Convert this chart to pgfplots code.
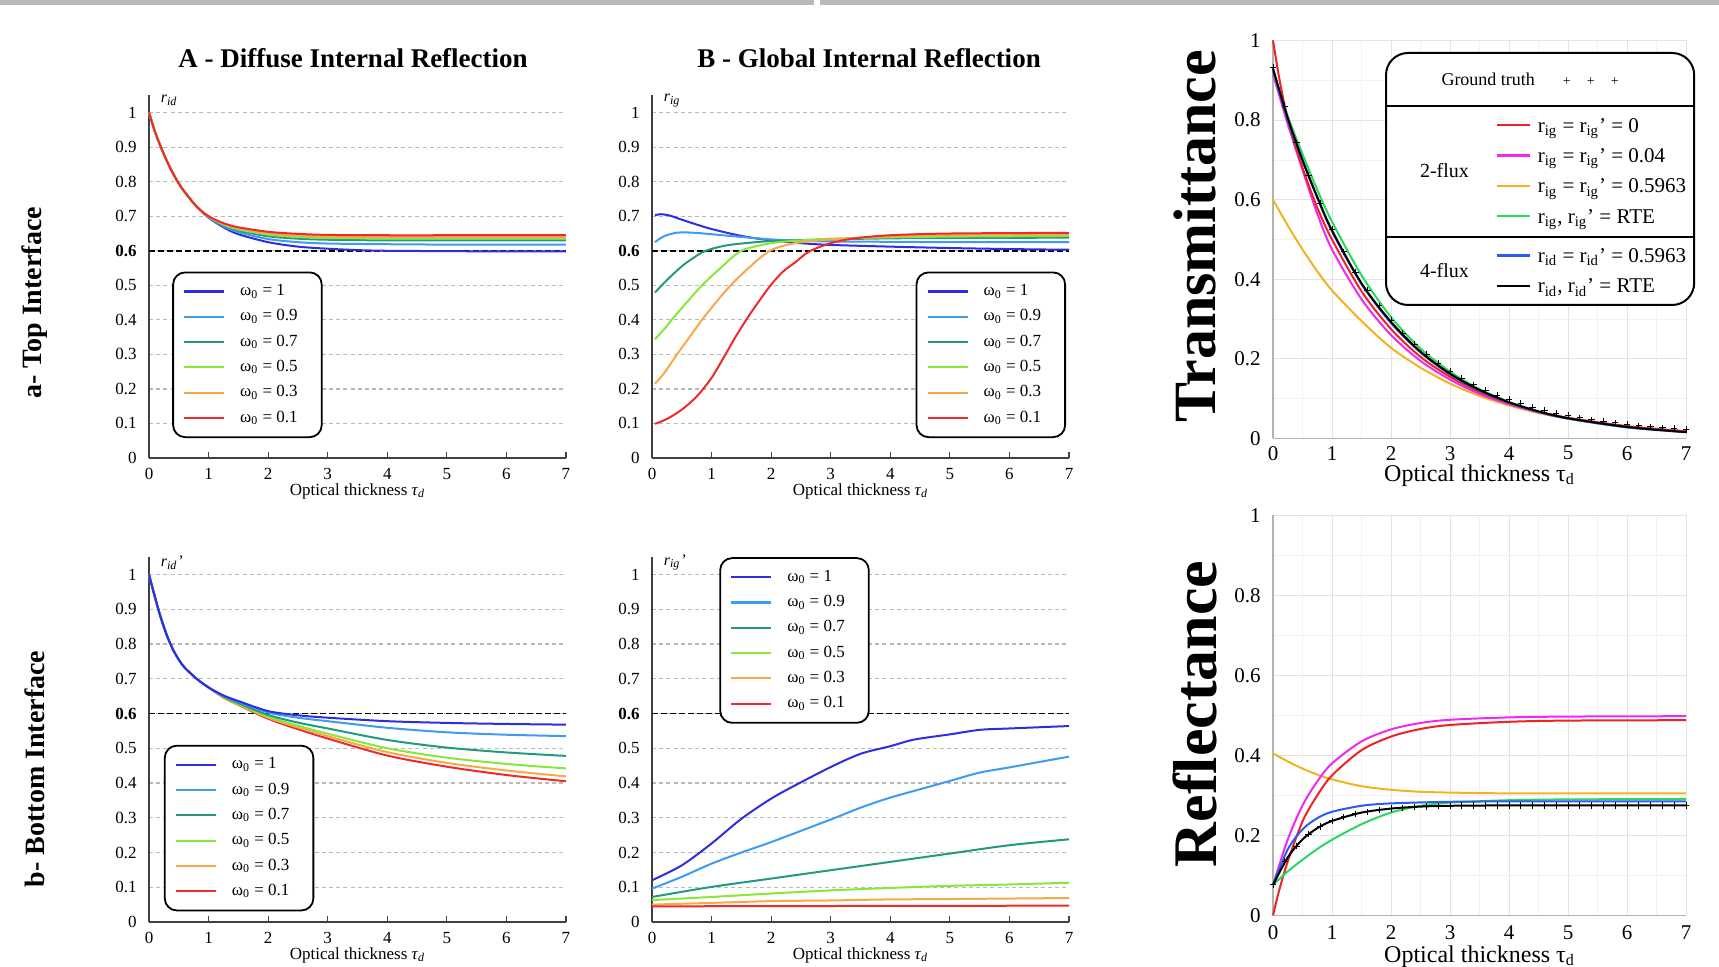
\documentclass[border=0pt]{standalone}
\usepackage{fontspec}
\setmainfont{Liberation Serif}
\usepackage{pgfplots}
\pgfplotsset{compat=1.18}

\definecolor{w1}{HTML}{2E2EE0}
\definecolor{w9}{HTML}{3D9BF0}
\definecolor{w7}{HTML}{239A80}
\definecolor{w5}{HTML}{86E83A}
\definecolor{w3}{HTML}{F7A94A}
\definecolor{w0}{HTML}{EE2A2A}
\definecolor{tred}{HTML}{EE2222}
\definecolor{tmag}{HTML}{F028F0}
\definecolor{tyel}{HTML}{F2B320}
\definecolor{tgrn}{HTML}{2AD860}
\definecolor{tblu}{HTML}{2A5CEE}

\newcommand\samp[1]{\textcolor{#1}{\rule[0.28em]{16.5pt}{1.2pt}}\hspace{4pt}}
\newcommand\wlab[1]{ω\textsubscript{0} = #1\hspace*{5pt}}

\pgfplotsset{
  lp/.style={scale only axis, width=208.5pt, xmin=0, xmax=7, ymin=0, ymax=1.05,
    clip=false,
    axis lines=left, axis line style={-, draw=black!75, line width=0.8pt},
    xtick={0,1,2,3,4,5,6,7}, xticklabels={0,1,2,3,4,5,6,7},
    ytick={0,0.1,0.2,0.3,0.4,0.5,0.6,0.7,0.8,0.9,1},
    yticklabels={0,0.1,0.2,0.3,0.4,0.5,\textbf{0.6},0.7,0.8,0.9,1},
    ymajorgrids, grid style={gray!55, line width=0.6pt, dash pattern=on 2pt off 1.6pt},
    xtick align=inside, major tick length=3pt,
    ytick style={draw=none}, xtick style={black!75, line width=0.6pt},
    tick label style={font=\fontsize{8.5}{10}\selectfont},
    xticklabel style={anchor=center, yshift=-7.8pt},
    yticklabel style={anchor=east, xshift=-1.2pt},
    xlabel={Optical thickness \textit{τ}\textsubscript{\textit{d}}},
    xlabel style={font=\fontsize{8.5}{10}\selectfont, at={(axis description cs:0.5,0)}, anchor=center, yshift=-16.5pt},
    legend cell align=left,
    legend style={draw=black, line width=0.9pt, rounded corners=6pt, fill=white,
      font=\fontsize{8.5}{10}\selectfont, row sep=1.5pt, inner xsep=5pt, inner ysep=4pt},
    legend image code/.code={\draw[#1, line width=1.1pt] (0pt,0pt) -- (20pt,0pt); \path (25.5pt,0pt);},
  },
  rp/.style={scale only axis, width=206.5pt, xmin=0, xmax=7, ymin=0, ymax=1,
    clip=false,
    axis lines=left, axis line style={-, draw=gray!60, line width=0.6pt},
    xtick={0,1,2,3,4,5,6,7}, xticklabels={0,1,2,3,4,5,6,7},
    ytick={0,0.2,0.4,0.6,0.8,1}, yticklabels={0,0.2,0.4,0.6,0.8,1},
    minor x tick num=1, minor y tick num=1,
    grid=both, major grid style={gray!22, line width=0.4pt}, minor grid style={gray!10, line width=0.3pt},
    tick style={draw=none},
    tick label style={font=\fontsize{10.5}{12}\selectfont},
    yticklabel style={anchor=east, xshift=-0.5pt},
    xlabel={Optical thickness τ\textsubscript{d}},
  },
  c/.style={#1, line width=1pt, smooth},
}

\begin{document}
\begin{tikzpicture}
\useasboundingbox (0pt,0pt) rectangle (859.5pt,483.5pt);
\fill[gray!55] (0pt,481pt) rectangle (859.5pt,483.5pt);
\fill[white] (407pt,480pt) rectangle (410pt,484pt);

% ---------------- Panel A: top, r_id
\begin{axis}[lp, height=181.3pt, at={(74.5pt,254.5pt)}, anchor=south west,
  legend style={at={(axis cs:0.39,0.54)}, anchor=north west}]
\addplot[black, line width=0.9pt, dash pattern=on 3pt off 1.5pt, forget plot] coordinates {(0,0.6) (7,0.6)};
\addplot[c=w1] coordinates {(0,1.0) (0.1,0.945) (0.2,0.9) (0.3,0.86) (0.4,0.825) (0.5,0.795) (0.6,0.77) (0.8,0.728) (1.0,0.696) (1.25,0.668) (1.5,0.648) (2,0.625) (2.5,0.612) (3,0.606) (3.5,0.602) (4,0.600) (5,0.599) (6,0.598) (7,0.598)};
\addplot[c=w9] coordinates {(0,1.0) (0.1,0.945) (0.2,0.9) (0.3,0.86) (0.4,0.825) (0.5,0.795) (0.6,0.77) (0.8,0.728) (1.0,0.697) (1.25,0.671) (1.5,0.654) (2,0.634) (2.5,0.625) (3,0.621) (4,0.619) (5,0.618) (7,0.618)};
\addplot[c=w7] coordinates {(0,1.0) (0.1,0.945) (0.2,0.9) (0.3,0.86) (0.4,0.825) (0.5,0.795) (0.6,0.77) (0.8,0.728) (1.0,0.698) (1.25,0.674) (1.5,0.659) (2,0.642) (2.5,0.635) (3,0.632) (4,0.630) (5,0.630) (7,0.630)};
\addplot[c=w5] coordinates {(0,1.0) (0.1,0.945) (0.2,0.9) (0.3,0.86) (0.4,0.825) (0.5,0.795) (0.6,0.77) (0.8,0.728) (1.0,0.699) (1.25,0.676) (1.5,0.662) (2,0.647) (2.5,0.640) (3,0.637) (4,0.636) (5,0.636) (7,0.636)};
\addplot[c=w3] coordinates {(0,1.0) (0.1,0.945) (0.2,0.9) (0.3,0.86) (0.4,0.825) (0.5,0.795) (0.6,0.77) (0.8,0.728) (1.0,0.700) (1.25,0.678) (1.5,0.665) (2,0.651) (2.5,0.644) (3,0.641) (4,0.640) (5,0.640) (7,0.640)};
\addplot[c=w0] coordinates {(0,1.0) (0.1,0.945) (0.2,0.9) (0.3,0.86) (0.4,0.825) (0.5,0.795) (0.6,0.77) (0.8,0.728) (1.0,0.700) (1.25,0.680) (1.5,0.668) (2,0.655) (2.5,0.649) (3,0.646) (4,0.645) (5,0.645) (7,0.645)};
\legend{\wlab{1},\wlab{0.9},\wlab{0.7},\wlab{0.5},\wlab{0.3},\wlab{0.1}}
\node[anchor=west, font=\fontsize{8}{9}\selectfont] at (axis cs:0.08,1.035) {\textit{r}\textsubscript{\textit{id}}};
\end{axis}

% ---------------- Panel B: top, r_ig
\begin{axis}[lp, height=181.3pt, at={(326pt,254.5pt)}, anchor=south west,
  legend style={at={(axis cs:6.95,0.54)}, anchor=north east}]
\addplot[black, line width=0.9pt, dash pattern=on 3pt off 1.5pt, forget plot] coordinates {(0,0.6) (7,0.6)};
\addplot[c=w1] coordinates {(0.05,0.703) (0.15,0.706) (0.3,0.702) (0.5,0.690) (0.75,0.676) (1,0.663) (1.5,0.643) (2,0.630) (2.5,0.622) (3,0.617) (4,0.612) (5,0.608) (6,0.605) (7,0.603)};
\addplot[c=w9] coordinates {(0.05,0.625) (0.2,0.642) (0.4,0.652) (0.6,0.653) (0.8,0.651) (1,0.648) (1.5,0.640) (2,0.633) (2.5,0.629) (3,0.627) (4,0.626) (5,0.625) (7,0.625)};
\addplot[c=w7] coordinates {(0.05,0.479) (0.25,0.515) (0.5,0.555) (0.7,0.580) (0.9,0.600) (1.2,0.614) (1.5,0.621) (2,0.628) (3,0.633) (4,0.636) (5,0.637) (7,0.638)};
\addplot[c=w5] coordinates {(0.05,0.344) (0.2,0.372) (0.33,0.400) (0.58,0.450) (0.84,0.500) (1.15,0.550) (1.5,0.600) (2,0.622) (2.5,0.630) (3,0.635) (4,0.639) (5,0.641) (7,0.643)};
\addplot[c=w3] coordinates {(0.05,0.215) (0.2,0.245) (0.42,0.300) (0.63,0.350) (0.84,0.400) (1.07,0.450) (1.32,0.500) (1.62,0.550) (1.98,0.600) (2.4,0.622) (3,0.633) (4,0.642) (5,0.646) (7,0.648)};
\addplot[c=w0] coordinates {(0.05,0.099) (0.25,0.113) (0.5,0.140) (0.75,0.178) (1,0.232) (1.2,0.290) (1.4,0.350) (1.6,0.405) (1.8,0.455) (2.0,0.502) (2.2,0.540) (2.4,0.566) (2.64,0.598) (3,0.622) (3.4,0.636) (4,0.645) (5,0.650) (7,0.652)};
\legend{\wlab{1},\wlab{0.9},\wlab{0.7},\wlab{0.5},\wlab{0.3},\wlab{0.1}}
\node[anchor=west, font=\fontsize{8}{9}\selectfont] at (axis cs:0.08,1.035) {\textit{r}\textsubscript{\textit{ig}}};
\end{axis}

% ---------------- Panel bottom-left: r_id'
\begin{axis}[lp, height=182.4pt, at={(74.5pt,22.5pt)}, anchor=south west,
  legend style={at={(axis cs:0.25,0.51)}, anchor=north west}]
\addplot[black, line width=0.9pt, dash pattern=on 3pt off 1.5pt, forget plot] coordinates {(0,0.6) (7,0.6)};
\addplot[c=w0, forget plot] coordinates {(0,1.0) (0.1,0.935) (0.2,0.875) (0.3,0.825) (0.4,0.785) (0.5,0.755) (0.6,0.732) (0.8,0.700) (1.0,0.675) (1.25,0.646) (1.5,0.625) (2,0.585) (2.5,0.555) (3,0.528) (4,0.479) (5,0.447) (6,0.423) (7,0.405)};
\addplot[c=w3, forget plot] coordinates {(0,1.0) (0.1,0.935) (0.2,0.875) (0.3,0.825) (0.4,0.785) (0.5,0.755) (0.6,0.732) (0.8,0.700) (1.0,0.675) (1.25,0.647) (1.5,0.626) (2,0.588) (2.5,0.560) (3,0.535) (4,0.489) (5,0.458) (6,0.436) (7,0.419)};
\addplot[c=w5, forget plot] coordinates {(0,1.0) (0.1,0.935) (0.2,0.875) (0.3,0.825) (0.4,0.785) (0.5,0.755) (0.6,0.732) (0.8,0.700) (1.0,0.675) (1.25,0.648) (1.5,0.628) (2,0.591) (2.5,0.565) (3,0.542) (4,0.500) (5,0.473) (6,0.455) (7,0.442)};
\addplot[c=w7, forget plot] coordinates {(0,1.0) (0.1,0.935) (0.2,0.875) (0.3,0.825) (0.4,0.785) (0.5,0.755) (0.6,0.732) (0.8,0.700) (1.0,0.675) (1.25,0.649) (1.5,0.630) (2,0.596) (2.5,0.574) (3,0.557) (4,0.524) (5,0.502) (6,0.488) (7,0.478)};
\addplot[c=w9, forget plot] coordinates {(0,1.0) (0.1,0.935) (0.2,0.875) (0.3,0.825) (0.4,0.785) (0.5,0.755) (0.6,0.732) (0.8,0.700) (1.0,0.675) (1.25,0.651) (1.5,0.634) (2,0.603) (2.5,0.588) (3,0.578) (4,0.559) (5,0.546) (6,0.539) (7,0.535)};
\addplot[c=w1, forget plot] coordinates {(0,1.0) (0.1,0.935) (0.2,0.875) (0.3,0.825) (0.4,0.785) (0.5,0.755) (0.6,0.732) (0.8,0.700) (1.0,0.675) (1.25,0.652) (1.5,0.636) (2,0.607) (2.5,0.595) (3,0.588) (4,0.578) (5,0.573) (6,0.570) (7,0.568)};
\addlegendimage{w1, line width=1pt}\addlegendentry{\wlab{1}}
\addlegendimage{w9, line width=1pt}\addlegendentry{\wlab{0.9}}
\addlegendimage{w7, line width=1pt}\addlegendentry{\wlab{0.7}}
\addlegendimage{w5, line width=1pt}\addlegendentry{\wlab{0.5}}
\addlegendimage{w3, line width=1pt}\addlegendentry{\wlab{0.3}}
\addlegendimage{w0, line width=1pt}\addlegendentry{\wlab{0.1}}
\node[anchor=west, font=\fontsize{8}{9}\selectfont] at (axis cs:0.08,1.035) {\textit{r}\textsubscript{\textit{id}}\textit{'}};
\end{axis}

% ---------------- Panel bottom-middle: r_ig'
\begin{axis}[lp, height=182.4pt, at={(326pt,22.5pt)}, anchor=south west,
  legend style={at={(axis cs:1.13,1.05)}, anchor=north west}]
\addplot[black, line width=0.9pt, dash pattern=on 3pt off 1.5pt, forget plot] coordinates {(0,0.6) (7,0.6)};
\addplot[c=w1] coordinates {(0,0.120) (0.5,0.163) (1,0.226) (1.5,0.297) (2,0.355) (2.4,0.393) (3,0.446) (3.5,0.484) (4,0.506) (4.4,0.525) (5,0.540) (5.5,0.553) (6,0.557) (7,0.564)};
\addplot[c=w9] coordinates {(0,0.096) (0.5,0.130) (1,0.168) (1.5,0.200) (2,0.230) (3,0.295) (3.5,0.329) (4,0.358) (4.5,0.382) (5,0.406) (5.5,0.430) (6,0.445) (7,0.476)};
\addplot[c=w7] coordinates {(0,0.072) (1,0.101) (2,0.125) (3,0.149) (4,0.173) (5,0.197) (6,0.221) (7,0.238)};
\addplot[c=w5] coordinates {(0,0.063) (1,0.072) (2,0.082) (3,0.091) (4,0.098) (5,0.104) (6,0.108) (7,0.113)};
\addplot[c=w3] coordinates {(0,0.050) (1,0.055) (2,0.060) (3,0.062) (4,0.065) (5,0.066) (7,0.069)};
\addplot[c=w0] coordinates {(0,0.045) (3,0.046) (7,0.047)};
\legend{\wlab{1},\wlab{0.9},\wlab{0.7},\wlab{0.5},\wlab{0.3},\wlab{0.1}}
\node[anchor=west, font=\fontsize{8}{9}\selectfont] at (axis cs:0.08,1.035) {\textit{r}\textsubscript{\textit{ig}}\textit{'}};
\end{axis}

% ---------------- Right top: Transmittance
\begin{axis}[rp, height=199pt, at={(636.5pt,264.25pt)}, anchor=south west,
  xticklabel style={anchor=center, yshift=-5.2pt},
  xlabel style={font=\fontsize{12}{14}\selectfont, at={(axis description cs:0.5,0)}, anchor=center, yshift=-18.5pt}]
\addplot[c=tyel] coordinates {(0,0.600) (0.25,0.535) (0.5,0.475) (0.75,0.420) (1,0.372) (1.5,0.295) (2,0.228) (2.5,0.178) (3,0.138) (3.5,0.107) (4,0.083) (4.5,0.064) (5,0.050) (6,0.030) (7,0.018)};
\addplot[c=tmag] coordinates {(0,0.915) (0.25,0.790) (0.5,0.675) (0.75,0.565) (1,0.475) (1.5,0.350) (2,0.260) (2.5,0.195) (3,0.148) (3.5,0.112) (4,0.086) (4.5,0.066) (5,0.051) (6,0.030) (7,0.018)};
\addplot[c=tred] coordinates {(0,1.000) (0.1,0.910) (0.2,0.835) (0.3,0.775) (0.5,0.680) (0.75,0.580) (1,0.500) (1.5,0.370) (2,0.275) (2.5,0.205) (3,0.155) (3.5,0.117) (4,0.089) (4.5,0.068) (5,0.052) (6,0.031) (7,0.018)};
\addplot[c=tgrn] coordinates {(0,0.920) (0.25,0.810) (0.5,0.715) (0.75,0.625) (1,0.545) (1.5,0.410) (2,0.305) (2.5,0.226) (3,0.168) (3.5,0.124) (4,0.092) (4.5,0.068) (5,0.050) (6,0.028) (7,0.016)};
\addplot[c=tblu] coordinates {(0,0.925) (0.25,0.800) (0.5,0.697) (0.75,0.605) (1,0.520) (1.5,0.388) (2,0.290) (2.5,0.216) (3,0.161) (3.5,0.120) (4,0.090) (4.5,0.067) (5,0.050) (6,0.028) (7,0.016)};
\addplot[c=black] coordinates {(0,0.930) (0.25,0.805) (0.5,0.700) (0.75,0.607) (1,0.523) (1.5,0.390) (2,0.293) (2.5,0.218) (3,0.163) (3.5,0.122) (4,0.091) (4.5,0.068) (5,0.051) (6,0.029) (7,0.016)};
\addplot[only marks, mark=+, mark size=1.6pt, black, line width=0.5pt] coordinates {(0,0.933) (0.2,0.834) (0.4,0.743) (0.6,0.662) (0.8,0.590) (1.0,0.526) (1.2,0.469) (1.4,0.418) (1.6,0.373) (1.8,0.333) (2.0,0.297) (2.2,0.265) (2.4,0.237) (2.6,0.212) (2.8,0.189) (3.0,0.169) (3.2,0.151) (3.4,0.135) (3.6,0.121) (3.8,0.109) (4.0,0.098) (4.2,0.088) (4.4,0.079) (4.6,0.071) (4.8,0.064) (5.0,0.058) (5.2,0.052) (5.4,0.047) (5.6,0.043) (5.8,0.039) (6.0,0.035) (6.2,0.032) (6.4,0.029) (6.6,0.027) (6.8,0.025) (7.0,0.023)};
\end{axis}

% ---------------- Right bottom: Reflectance
\begin{axis}[rp, height=200pt, at={(636.5pt,25.8pt)}, anchor=south west,
  xticklabel style={anchor=center, yshift=-6.5pt},
  xlabel style={font=\fontsize{12}{14}\selectfont, at={(axis description cs:0.5,0)}, anchor=center, yshift=-20.5pt}]
\addplot[c=tyel] coordinates {(0,0.405) (0.25,0.385) (0.5,0.367) (0.75,0.352) (1,0.340) (1.5,0.323) (2,0.314) (2.5,0.309) (3,0.307) (4,0.305) (5,0.305) (7,0.305)};
\addplot[c=tmag] coordinates {(0,0.076) (0.25,0.190) (0.5,0.275) (0.75,0.335) (1,0.380) (1.5,0.435) (2,0.465) (2.5,0.481) (3,0.489) (4,0.495) (5,0.497) (7,0.498)};
\addplot[c=tred] coordinates {(0,0.000) (0.1,0.060) (0.25,0.135) (0.5,0.235) (0.75,0.300) (1,0.350) (1.5,0.413) (2,0.447) (2.5,0.466) (3,0.476) (4,0.484) (5,0.487) (7,0.488)};
\addplot[c=tgrn] coordinates {(0,0.076) (0.25,0.110) (0.5,0.139) (0.75,0.166) (1,0.189) (1.5,0.228) (2,0.257) (2.5,0.274) (3,0.282) (4,0.288) (5,0.290) (7,0.291)};
\addplot[c=tblu] coordinates {(0,0.076) (0.25,0.165) (0.5,0.215) (0.75,0.243) (1,0.259) (1.5,0.274) (2,0.280) (3,0.284) (4,0.285) (5,0.285) (7,0.285)};
\addplot[c=black] coordinates {(0,0.076) (0.25,0.145) (0.5,0.190) (0.75,0.218) (1,0.236) (1.5,0.257) (2,0.267) (2.5,0.272) (3,0.274) (4,0.275) (5,0.275) (7,0.275)};
\addplot[only marks, mark=+, mark size=1.6pt, black, line width=0.5pt] coordinates {(0,0.076) (0.2,0.135) (0.4,0.173) (0.6,0.203) (0.8,0.222) (1.0,0.236) (1.2,0.246) (1.4,0.254) (1.6,0.259) (1.8,0.264) (2.0,0.267) (2.2,0.269) (2.4,0.271) (2.6,0.272) (2.8,0.273) (3.0,0.274) (3.2,0.275) (3.4,0.275) (3.6,0.275) (3.8,0.275) (4.0,0.275) (4.2,0.275) (4.4,0.275) (4.6,0.275) (4.8,0.275) (5.0,0.275) (5.2,0.275) (5.4,0.275) (5.6,0.275) (5.8,0.275) (6.0,0.275) (6.2,0.275) (6.4,0.275) (6.6,0.275) (6.8,0.275) (7.0,0.275)};
\end{axis}

% ---------------- Titles and side labels
\node[font=\fontsize{13.5}{15}\selectfont\bfseries] at (176.5pt,454.5pt) {A - Diffuse Internal Reflection};
\node[font=\fontsize{13.5}{15}\selectfont\bfseries] at (434.5pt,454.5pt) {B - Global Internal Reflection};
\node[rotate=90, font=\fontsize{14}{16}\selectfont\bfseries] at (17.5pt,332pt) {a- Top Interface};
\node[rotate=90, font=\fontsize{14}{16}\selectfont\bfseries] at (17.5pt,99pt) {b- Bottom Interface};
\node[rotate=90, font=\fontsize{30}{32}\selectfont\bfseries] at (597.5pt,365.5pt) {Transmittance};
\node[rotate=90, font=\fontsize{31}{33}\selectfont\bfseries] at (597.5pt,126.5pt) {Reflectance};

% ---------------- Legend of the right-hand panels
\setlength\arrayrulewidth{0.9pt}
\node[draw, line width=1pt, rounded corners=11pt, fill=white, inner sep=0pt, anchor=north west] at (692.5pt,457.5pt) {%
\fontsize{10.5}{15.2}\selectfont
\begin{tabular}{@{\hspace{17pt}}c@{\hspace{14pt}}l@{\hspace{4pt}}}
\multicolumn{2}{@{}c@{}}{\rule[-9.5pt]{0pt}{26pt}\hspace{-10pt}{\fontsize{9}{10}\selectfont Ground truth}\hspace{14pt}{\fontsize{7}{8}\selectfont +\hspace{8pt}+\hspace{8pt}+}}\\
\hline
\noalign{\vskip 2pt}
{\fontsize{10}{12}\selectfont 2-flux} & \begin{tabular}{@{}l@{}}
\samp{tred}r\textsubscript{ig} = r\textsubscript{ig}' = 0\\
\samp{tmag}r\textsubscript{ig} = r\textsubscript{ig}' = 0.04\\
\samp{tyel}r\textsubscript{ig} = r\textsubscript{ig}' = 0.5963\\
\samp{tgrn}r\textsubscript{ig}, r\textsubscript{ig}' = RTE
\end{tabular}\\
\noalign{\vskip 2pt}
\hline
\noalign{\vskip 1.5pt}
{\fontsize{10}{12}\selectfont 4-flux} & \begin{tabular}{@{}l@{}}
\samp{tblu}r\textsubscript{id} = r\textsubscript{id}' = 0.5963\\
\samp{black}r\textsubscript{id}, r\textsubscript{id}' = RTE
\end{tabular}\\
\noalign{\vskip 1.5pt}
\end{tabular}};
\end{tikzpicture}
\end{document}
